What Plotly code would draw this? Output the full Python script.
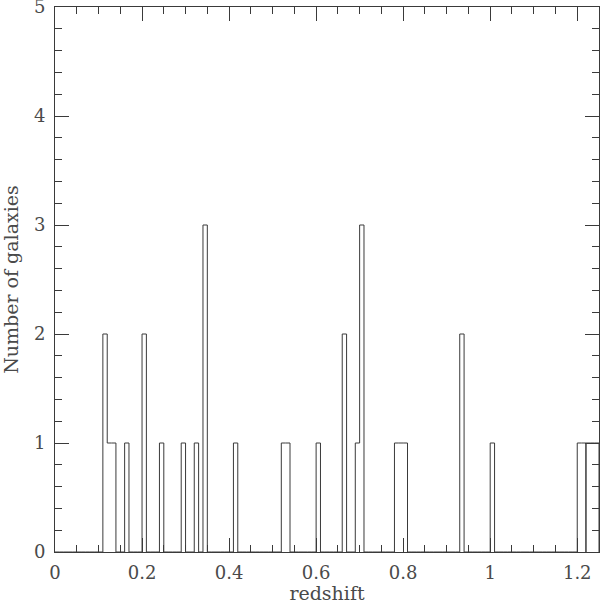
import plotly.graph_objects as go

# histogram of galaxy redshifts, bins of width 0.01 (left edge -> count)
bin_width = 0.01
bin_left = [0.11, 0.12, 0.13, 0.16, 0.20, 0.24, 0.29, 0.32, 0.34, 0.41,
            0.52, 0.53, 0.60, 0.66, 0.69, 0.70, 0.78, 0.79, 0.80, 0.93,
            1.00, 1.20, 1.21]
bin_count = [2, 1, 1, 1, 2, 1, 1, 1, 3, 1,
             1, 1, 1, 2, 1, 3, 1, 1, 1, 2,
             1, 1, 1]
# last block, drawn on its own at the right edge
tail_left = [1.22, 1.23, 1.24]
tail_count = [1, 1, 1]

x_start, x_end = 0.0, 1.22
ink = "#3a3a3a"
text_col = "#4a4a4a"
font = "DejaVu Serif"


def step_xy(start, stop, lefts, counts):
    n = int(round((stop - start) / bin_width))
    full = [0] * n
    for left, c in zip(lefts, counts):
        full[int(round((left - start) / bin_width))] = c
    xs = [start] + [start + i * bin_width for i in range(n)] + [stop]
    ys = [0] + full + [0]
    return xs, ys


fig = go.Figure()
hx, hy = step_xy(x_start, x_end, bin_left, bin_count)
fig.add_trace(go.Scatter(x=hx, y=hy, mode="lines", line_shape="hv",
                         line=dict(color=ink, width=1), hoverinfo="skip",
                         cliponaxis=False))
tx, ty = step_xy(tail_left[0], tail_left[-1] + bin_width, tail_left, tail_count)
fig.add_trace(go.Scatter(x=tx, y=ty, mode="lines", line_shape="hv",
                         line=dict(color=ink, width=1), hoverinfo="skip",
                         cliponaxis=False))

axis_common = dict(showgrid=False, zeroline=False, showline=True, linecolor=ink,
                   linewidth=1, mirror="allticks", ticks="inside", ticklen=14,
                   tickcolor=ink, tickwidth=1, automargin=False,
                   ticklabeloverflow="allow",
                   tickfont=dict(family=font, size=18, color=text_col),
                   title_font=dict(family=font, size=19, color=text_col))

fig.update_xaxes(range=[0, 1.25], tickvals=[0, 0.2, 0.4, 0.6, 0.8, 1, 1.2],
                 ticktext=["0", "0.2", "0.4", "0.6", "0.8", "1", "1.2"],
                 minor=dict(dtick=0.05, tick0=0, ticks="inside", ticklen=7,
                            tickcolor=ink),
                 ticklabelstandoff=4,
                 title_text="redshift", title_standoff=7, **axis_common)
fig.update_yaxes(range=[0, 5], tickvals=[0, 1, 2, 3, 4, 5],
                 minor=dict(dtick=0.2, tick0=0, ticks="inside", ticklen=7,
                            tickcolor=ink),
                 ticklabelstandoff=5,
                 title_text="Number of galaxies", title_standoff=14, **axis_common)

fig.update_layout(width=600, height=604, showlegend=False,
                  margin=dict(l=55, r=1, t=7, b=52),
                  paper_bgcolor="white", plot_bgcolor="white")

# drop the page's default body margin so the figure sits at the window corner
fig.write_html("out.html", config={"displayModeBar": False},
               post_script="document.body.style.margin='0';")
